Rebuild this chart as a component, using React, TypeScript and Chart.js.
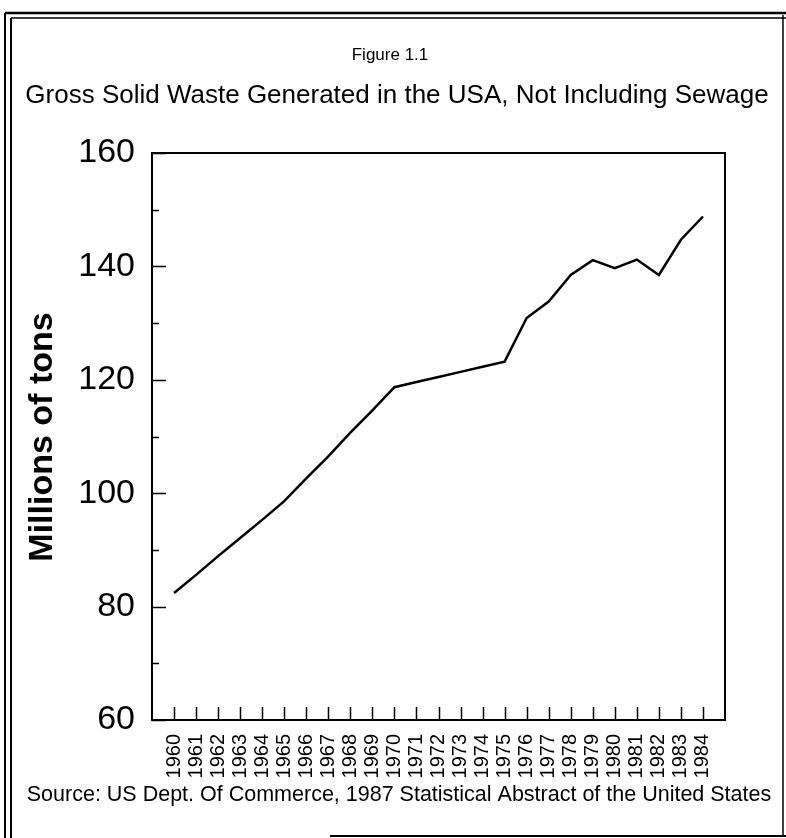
import React, { useEffect, useRef } from "react";
import { Chart, registerables } from "chart.js";

Chart.register(...registerables);

const years = [
  1960, 1961, 1962, 1963, 1964, 1965, 1966, 1967, 1968, 1969, 1970, 1971, 1972,
  1973, 1974, 1975, 1976, 1977, 1978, 1979, 1980, 1981, 1982, 1983, 1984,
];
const tons = [
  82.4, 85.6, 88.9, 92.1, 95.3, 98.6, 102.6, 106.5, 110.7, 114.6, 118.7, 119.6,
  120.5, 121.4, 122.3, 123.2, 130.9, 133.8, 138.5, 141.1, 139.7, 141.2, 138.5,
  144.7, 148.8,
];
const yTicks = [60, 80, 100, 120, 140, 160];
const figureLabel = "Figure 1.1";
const titleText = "Gross Solid Waste Generated in the USA, Not Including Sewage";
const yTitle = "Millions of tons";
const sourceText =
  "Source: US Dept. Of Commerce, 1987 Statistical Abstract of the United States";

const FONT = "'Liberation Sans', Arial, sans-serif";

const decorPlugin = {
  id: "decor",
  afterDraw(chart: any) {
    const ctx = chart.ctx as CanvasRenderingContext2D;
    const { left, right, top, bottom } = chart.chartArea;
    const xs = chart.scales.x;
    const ys = chart.scales.y;
    ctx.save();
    ctx.strokeStyle = "#000";
    ctx.fillStyle = "#000";
    // plot border
    ctx.lineWidth = 2;
    ctx.strokeRect(left, top, right - left, bottom - top);
    // y ticks inward
    ctx.lineWidth = 1.5;
    for (let v = 60; v <= 160; v += 10) {
      const py = Math.round(ys.getPixelForValue(v)) + 0.5;
      const len = yTicks.includes(v) ? 14 : 7;
      ctx.beginPath();
      ctx.moveTo(left, py);
      ctx.lineTo(left + len, py);
      ctx.stroke();
    }
    // x ticks inward
    for (const yr of years) {
      const px = Math.round(xs.getPixelForValue(yr)) + 0.5;
      ctx.beginPath();
      ctx.moveTo(px, bottom);
      ctx.lineTo(px, bottom - 13);
      ctx.stroke();
    }
    // texts
    ctx.textAlign = "center";
    ctx.textBaseline = "alphabetic";
    ctx.font = `17px ${FONT}`;
    ctx.fillText(figureLabel, 390, 60);
    ctx.font = `26px ${FONT}`;
    ctx.fillText(titleText, 397, 103);
    ctx.font = `21.5px ${FONT}`;
    ctx.fillText(sourceText, 399, 801);
    // y title
    ctx.save();
    ctx.translate(43, 437);
    ctx.rotate(-Math.PI / 2);
    ctx.font = `bold 34px ${FONT}`;
    ctx.textBaseline = "middle";
    ctx.fillText(yTitle, 0, 0);
    ctx.restore();
    // outer frame
    const ln = (x1: number, y1: number, x2: number, y2: number, w: number) => {
      ctx.lineWidth = w;
      ctx.beginPath();
      ctx.moveTo(x1, y1);
      ctx.lineTo(x2, y2);
      ctx.stroke();
    };
    ln(5, 13, 5, 838, 2);
    ln(11, 18, 11, 838, 2);
    ln(5, 13, 786, 13, 2.5);
    ln(11, 18, 786, 18, 1.5);
    ln(783, 15, 783, 836, 1.5);
    ln(330, 836, 786, 836, 2);
    ctx.restore();
  },
};

export default function App() {
  const ref = useRef<HTMLCanvasElement | null>(null);
  useEffect(() => {
    if (!ref.current) return;
    const chart = new Chart(ref.current, {
      type: "line",
      data: {
        datasets: [
          {
            data: years.map((y, i) => ({ x: y, y: tons[i] })),
            borderColor: "#000",
            borderWidth: 2.5,
            pointRadius: 0,
            tension: 0,
            fill: false,
          },
        ],
      },
      options: {
        animation: false,
        responsive: false,
        layout: { padding: { top: 153, right: 61, left: 0, bottom: 0 } },
        plugins: { legend: { display: false }, tooltip: { enabled: false } },
        scales: {
          x: {
            type: "linear",
            min: 1959,
            max: 1985,
            grid: { display: false, drawTicks: false },
            border: { display: false },
            ticks: {
              stepSize: 1,
              autoSkip: false,
              maxRotation: 90,
              minRotation: 90,
              padding: 14,
              color: "#000",
              font: { family: FONT, size: 20 },
              callback: (v: any) =>
                v >= years[0] && v <= years[years.length - 1] ? String(v) : "",
            },
            afterFit: (s: any) => {
              s.height = 118;
            },
          },
          y: {
            min: 60,
            max: 160,
            grid: { display: false, drawTicks: false },
            border: { display: false },
            ticks: {
              stepSize: 10,
              padding: 17,
              color: "#000",
              font: { family: FONT, size: 34 },
              callback: (v: any) => (yTicks.includes(v) ? String(v) : ""),
            },
            afterFit: (s: any) => {
              s.width = 152;
            },
          },
        },
      },
      plugins: [decorPlugin],
    });
    return () => chart.destroy();
  }, []);
  return (
    <div style={{ position: "absolute", top: 0, left: 0, width: 786, height: 838, background: "#fff" }}>
      <canvas ref={ref} width={786} height={838} />
    </div>
  );
}
